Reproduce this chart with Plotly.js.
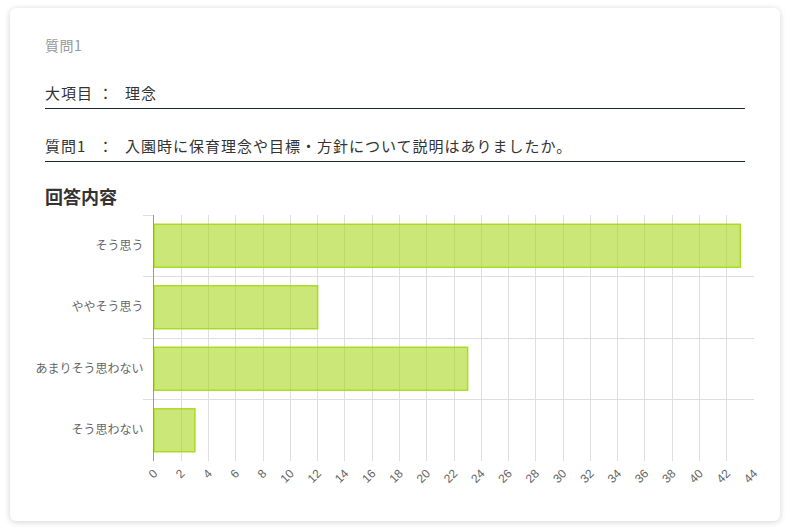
<!DOCTYPE html>
<html>
<head>
<meta charset="utf-8">
<script src="https://cdn.plot.ly/plotly-3.0.1.min.js"></script>
<style>
  body { margin: 0; background: #fff; font-family: "Noto Sans CJK JP", "Noto Sans", sans-serif; }
  #card { position: absolute; left: 10px; top: 8px; width: 770px; height: 513px;
          background: #fff; border-radius: 6px; box-shadow: 0 1px 6px rgba(0,0,0,0.18); }
  .t { position: absolute; white-space: nowrap; }
  #q0 { left: 45px; top: 35px; font-size: 14px; color: #999; letter-spacing: 0.5px; }
  .row { font-size: 15px; color: #333; letter-spacing: 1px; }
  .rule { position: absolute; left: 45px; width: 700px; height: 0; border-top: 1px solid #1c2633; }
  #ans { left: 45px; top: 183px; font-size: 18px; font-weight: bold; color: #333; }
  #chart { position: absolute; left: 30px; top: 205px; width: 740px; height: 290px; }
</style>
</head>
<body>
<div id="card"></div>
<div class="t" id="q0">質問1</div>
<div class="t row" style="left:45px;top:82px">大項目</div>
<div class="t row" style="left:98px;top:82px">：</div>
<div class="t row" style="left:125px;top:82px">理念</div>
<div class="rule" style="top:108px"></div>
<div class="t row" style="left:45px;top:135px">質問1</div>
<div class="t row" style="left:98px;top:135px">：</div>
<div class="t row" style="left:125px;top:135px">入園時に保育理念や目標・方針について説明はありましたか。</div>
<div class="rule" style="top:161px"></div>
<div class="t" id="ans">回答内容</div>
<div id="chart"></div>
<script>
var categories = ["そう思う", "ややそう思う", "あまりそう思わない", "そう思わない"];
var counts = [43, 12, 23, 3];

var CHART = document.getElementById("chart");

var data = [
    {
        x: counts,
        y: categories,
        type: 'bar',
        orientation: 'h',
        marker: {
            color: 'rgba(163,214,20,0.58)',
            line: { color: 'rgba(166,216,20,0.9)', width: 1.5 }
        },
        hoverinfo: 'x+y'
    }
];

var layout = {
    width: 740,
    height: 290,
    margin: { l: 124, r: 16, t: 10, b: 34 },
    paper_bgcolor: 'rgba(0,0,0,0)',
    plot_bgcolor: 'rgba(0,0,0,0)',
    font: { family: '"Liberation Sans", "Noto Sans CJK JP", sans-serif', size: 12, color: '#666' },
    bargap: 0.3,
    showlegend: false,
    xaxis: {
        range: [0, 44],
        dtick: 2,
        tickangle: -45,
        gridcolor: '#dedede',
        zeroline: false,
        ticks: '',
        ticklabelstandoff: 2,
        automargin: false,
        fixedrange: true
    },
    yaxis: {
        autorange: 'reversed',
        tickson: 'boundaries',
        ticks: 'outside',
        ticklen: 10,
        tickcolor: '#dedede',
        gridcolor: '#dedede',
        showline: true,
        linecolor: '#999',
        linewidth: 1,
        automargin: false,
        ticklabelstandoff: 7,
        fixedrange: true
    }
};

var config = { responsive: false, displayModeBar: false };
Plotly.newPlot(CHART, data, layout, config);
</script>
</body>
</html>
